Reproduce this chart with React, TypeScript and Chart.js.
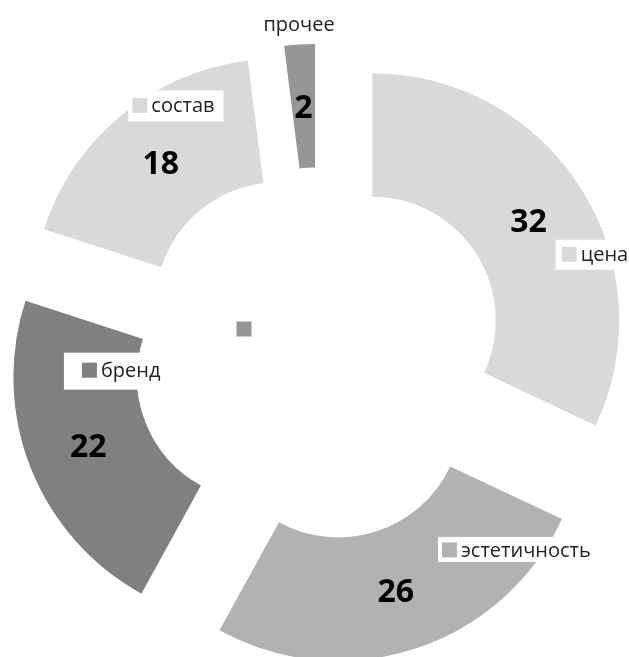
import React, { useEffect, useRef } from 'react';
import { Chart, registerables } from 'chart.js';

Chart.register(...registerables);

// ---- data ----
const categories = ['цена', 'эстетичность', 'бренд', 'состав', 'прочее'];
const values = [32, 26, 22, 18, 2];
const colors = ['#d9d9d9', '#b2b2b2', '#808080', '#d9d9d9', '#969696'];

// ---- layout / style ----
const W = 629;
const H = 657;
const OUTER_RADIUS = 247;
const EXPLODE = 63;
const TEXT_COLOR = '#222222';
const FONT = '"Open Sans", "DejaVu Sans", sans-serif';

// category label boxes: square centre offset from the slice's exploded centre, box paddings
const catLabelStyle: any[] = [
  { dx: 197, dy: -66, padL: 6, padT: 14.5, padB: 15.5, padR: 6 },
  { dx: 111, dy: 136, padL: 4, padT: 13, padB: 12, padR: 3 },
  { dx: -171, dy: -7, padL: 18, padT: 17.5, padB: 19.5, padR: 4 },
  { dx: -139, dy: -200, padL: 4, padT: 15, padB: 16, padR: 8 },
  null,
];
// "прочее" label text centre offset from its slice centre, and its stray key near chart centre
const otherLabelOffset = { dx: -16, dy: -266 };
const otherKeyOffset = { dx: -75, dy: -25 };
const KEY = 15;

const explodePlugin = {
  id: 'explode',
  afterDatasetUpdate(chart: any, args: any) {
    args.meta.data.forEach((arc: any) => {
      const half = (arc.startAngle + arc.endAngle) / 2;
      arc.x += Math.cos(half) * EXPLODE;
      arc.y += Math.sin(half) * EXPLODE;
    });
  },
};

const labelPlugin = {
  id: 'sliceLabels',
  afterDatasetsDraw(chart: any) {
    const ctx = chart.ctx as CanvasRenderingContext2D;
    const meta = chart.getDatasetMeta(0);
    ctx.save();
    meta.data.forEach((arc: any, i: number) => {
      const half = (arc.startAngle + arc.endAngle) / 2;
      const midR = (arc.innerRadius + arc.outerRadius) / 2;
      const vx = arc.x + Math.cos(half) * midR;
      const vy = arc.y + Math.sin(half) * midR;
      ctx.font = `bold 32px ${FONT}`;
      ctx.textAlign = 'center';
      ctx.textBaseline = 'alphabetic';
      ctx.fillStyle = '#000000';
      ctx.fillText(String(values[i]), vx, vy + 11.5);
    });
    meta.data.forEach((arc: any, i: number) => {
      const st = catLabelStyle[i];
      ctx.font = `20px ${FONT}`;
      if (st) {
        const sx = arc.x + st.dx;
        const sy = arc.y + st.dy;
        const tw = ctx.measureText(categories[i]).width;
        const left = sx - KEY / 2 - st.padL;
        const right = sx + KEY / 2 + 5 + tw + st.padR;
        ctx.fillStyle = '#ffffff';
        ctx.fillRect(left, sy - st.padT, right - left, st.padT + st.padB);
        ctx.fillStyle = colors[i];
        ctx.fillRect(sx - KEY / 2, sy - KEY / 2, KEY, KEY);
        ctx.fillStyle = TEXT_COLOR;
        ctx.textAlign = 'left';
        ctx.textBaseline = 'middle';
        ctx.fillText(categories[i], sx + KEY / 2 + 4, sy + 1);
      } else {
        ctx.fillStyle = TEXT_COLOR;
        ctx.textAlign = 'center';
        ctx.textBaseline = 'middle';
        ctx.fillText(categories[i], arc.x + otherLabelOffset.dx, arc.y + otherLabelOffset.dy);
        const cx = (chart.chartArea.left + chart.chartArea.right) / 2;
        const cy = (chart.chartArea.top + chart.chartArea.bottom) / 2;
        ctx.fillStyle = colors[i];
        ctx.fillRect(cx + otherKeyOffset.dx - KEY / 2, cy + otherKeyOffset.dy - KEY / 2, KEY, KEY);
      }
    });
    ctx.restore();
  },
};

export default function App() {
  const ref = useRef<HTMLCanvasElement>(null);
  useEffect(() => {
    if (!ref.current) return;
    const chart = new Chart(ref.current, {
      type: 'doughnut',
      data: {
        labels: categories,
        datasets: [
          {
            data: values,
            backgroundColor: colors,
            borderWidth: 0,
            clip: false as any,
          },
        ],
      },
      options: {
        responsive: false,
        maintainAspectRatio: false,
        animation: false,
        devicePixelRatio: 1,
        cutout: '50%',
        radius: OUTER_RADIUS,
        rotation: 0,
        layout: { padding: { left: 9, right: 0, top: 51, bottom: 0 } },
        plugins: {
          legend: { display: false },
          tooltip: { enabled: false },
        },
        events: [],
      } as any,
      plugins: [explodePlugin, labelPlugin],
    });
    return () => chart.destroy();
  }, []);
  return (
    <div style={{ position: 'fixed', left: 0, top: 0, width: W, height: H, background: '#ffffff', overflow: 'hidden' }}>
      <canvas ref={ref} width={W} height={H} style={{ width: W, height: H, display: 'block' }} />
    </div>
  );
}
